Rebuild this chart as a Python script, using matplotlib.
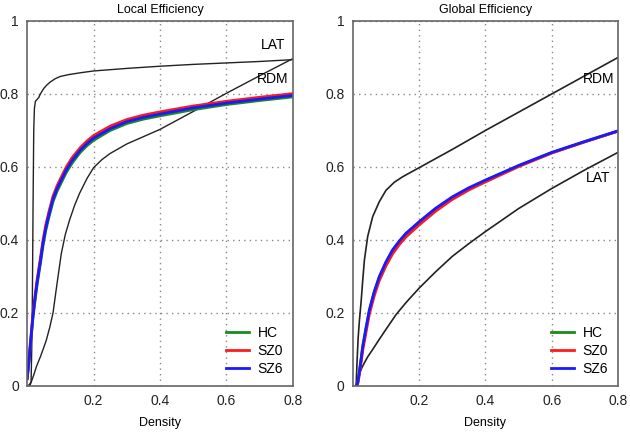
import numpy as np
import matplotlib.pyplot as plt

plt.rcParams['font.family'] = ['Liberation Sans', 'DejaVu Sans']

# Local efficiency curves (density, value)
loc_lat_x = [0.003, 0.012, 0.014, 0.016, 0.018, 0.02, 0.022, 0.025, 0.03, 0.035, 0.04, 0.05,
             0.06, 0.07, 0.085, 0.1, 0.125, 0.16, 0.2, 0.3, 0.4, 0.5, 0.6, 0.7, 0.8]
loc_lat_y = [0.0, 0.01, 0.1, 0.25, 0.5, 0.7, 0.76, 0.78, 0.785, 0.79, 0.80, 0.815,
             0.825, 0.833, 0.842, 0.848, 0.853, 0.858, 0.863, 0.87, 0.876, 0.881, 0.885, 0.889, 0.894]
loc_rdm_x = [0.008, 0.02, 0.028, 0.04, 0.05, 0.058, 0.068, 0.078, 0.09, 0.103, 0.115, 0.128,
             0.143, 0.158, 0.18, 0.2, 0.225, 0.25, 0.3, 0.35, 0.4, 0.5, 0.6, 0.7, 0.8]
loc_rdm_y = [0.0, 0.03, 0.053, 0.08, 0.105, 0.126, 0.16, 0.2, 0.28, 0.363, 0.415, 0.455,
             0.495, 0.528, 0.568, 0.598, 0.62, 0.637, 0.663, 0.683, 0.703, 0.752, 0.802, 0.85, 0.897]
loc_x = [0.0, 0.005, 0.01, 0.018, 0.025, 0.03, 0.04, 0.048, 0.056, 0.065, 0.078, 0.09, 0.1,
         0.118, 0.135, 0.16, 0.18, 0.2, 0.25, 0.3, 0.35, 0.4, 0.5, 0.6, 0.7, 0.8]
loc_sz0 = [0.02, 0.065, 0.12, 0.2, 0.255, 0.29, 0.35, 0.40, 0.44, 0.475, 0.52, 0.548, 0.567,
           0.60, 0.625, 0.653, 0.671, 0.686, 0.712, 0.73, 0.742, 0.751, 0.767, 0.78, 0.791, 0.801]
loc_sz6 = [0.02, 0.062, 0.115, 0.195, 0.248, 0.283, 0.342, 0.392, 0.432, 0.467, 0.512, 0.54, 0.559,
           0.592, 0.617, 0.646, 0.664, 0.679, 0.705, 0.724, 0.736, 0.745, 0.762, 0.775, 0.786, 0.796]
loc_hc = [0.02, 0.06, 0.11, 0.19, 0.242, 0.277, 0.335, 0.385, 0.425, 0.46, 0.505, 0.533, 0.552,
          0.585, 0.61, 0.64, 0.658, 0.673, 0.7, 0.719, 0.731, 0.74, 0.757, 0.771, 0.782, 0.792]

# Global efficiency curves
glo_rdm_x = [0.01, 0.013, 0.016, 0.02, 0.025, 0.03, 0.035, 0.045, 0.06, 0.08, 0.1, 0.125,
             0.15, 0.2, 0.3, 0.4, 0.5, 0.6, 0.7, 0.8]
glo_rdm_y = [0.0, 0.07, 0.13, 0.18, 0.23, 0.29, 0.345, 0.41, 0.464, 0.505, 0.536, 0.558,
             0.573, 0.598, 0.648, 0.70, 0.75, 0.80, 0.85, 0.90]
glo_lat_x = [0.01, 0.02, 0.03, 0.045, 0.06, 0.08, 0.1, 0.13, 0.16, 0.2, 0.25, 0.3, 0.35, 0.4,
             0.5, 0.6, 0.7, 0.8]
glo_lat_y = [0.0, 0.035, 0.055, 0.08, 0.10, 0.128, 0.155, 0.195, 0.228, 0.268, 0.313, 0.355,
             0.39, 0.423, 0.486, 0.541, 0.592, 0.64]
glo_x = [0.011, 0.015, 0.02, 0.03, 0.04, 0.05, 0.065, 0.08, 0.1, 0.12, 0.14, 0.16, 0.2, 0.25,
         0.3, 0.35, 0.4, 0.5, 0.6, 0.7, 0.8]
glo_sz6 = [0.0, 0.01, 0.04, 0.109, 0.16, 0.209, 0.26, 0.30, 0.34, 0.373, 0.397, 0.418, 0.45,
           0.487, 0.518, 0.543, 0.564, 0.604, 0.64, 0.67, 0.699]
glo_sz0 = [0.0, 0.006, 0.032, 0.098, 0.148, 0.197, 0.248, 0.289, 0.329, 0.362, 0.387, 0.408,
           0.441, 0.479, 0.511, 0.537, 0.559, 0.601, 0.638, 0.669, 0.698]
glo_hc = [0.0, 0.01, 0.039, 0.107, 0.158, 0.206, 0.257, 0.297, 0.337, 0.37, 0.394, 0.415,
          0.448, 0.485, 0.516, 0.541, 0.563, 0.603, 0.639, 0.669, 0.698]

fig = plt.figure(figsize=(6.3, 4.32), dpi=100)
ax1 = fig.add_axes([0.043, 0.1065, 0.422, 0.845])
ax2 = fig.add_axes([0.560, 0.1065, 0.421, 0.845])


def style(ax, title):
    ax.set_xlim(0, 0.8)
    ax.set_ylim(0, 1)
    ax.set_xticks([0.2, 0.4, 0.6, 0.8])
    ax.set_xticklabels(['0.2', '0.4', '0.6', '0.8'])
    ax.set_yticks([0, 0.2, 0.4, 0.6, 0.8, 1])
    ax.set_yticklabels(['0', '0.2', '0.4', '0.6', '0.8', '1'])
    ax.tick_params(length=0, labelsize=10, pad=6, colors='#222222')
    ax.grid(True, linestyle=(0, (1, 3)), color='#888888', linewidth=1)
    for s in ax.spines.values():
        s.set_color('#666666')
        s.set_linewidth(1.2)
    ax.set_title(title, fontsize=9, pad=6)
    ax.set_xlabel('Density', fontsize=9, labelpad=6)


kw = dict(solid_joinstyle='round')
ax1.plot(loc_lat_x, loc_lat_y, color='#222222', lw=1, **kw)
ax1.plot(loc_rdm_x, loc_rdm_y, color='#222222', lw=1, **kw)
ax1.plot(loc_x, loc_hc, color='#1a8a1a', lw=2, label='HC', **kw)
ax1.plot(loc_x, loc_sz0, color='#ff1a1a', lw=2, label='SZ0', **kw)
ax1.plot(loc_x, loc_sz6, color='#1a1aff', lw=2, label='SZ6', **kw)
ax1.text(0.74, 0.935, 'LAT', fontsize=10, ha='center', va='center')
ax1.text(0.74, 0.84, 'RDM', fontsize=10, ha='center', va='center')
style(ax1, 'Local Efficiency')

ax2.plot(glo_rdm_x, glo_rdm_y, color='#222222', lw=1.2, **kw)
ax2.plot(glo_lat_x, glo_lat_y, color='#222222', lw=1.2, **kw)
ax2.plot(glo_x, glo_hc, color='#1a8a1a', lw=2, label='HC', **kw)
ax2.plot(glo_x, glo_sz0, color='#ff1a1a', lw=2, label='SZ0', **kw)
ax2.plot(glo_x, glo_sz6, color='#1a1aff', lw=2, label='SZ6', **kw)
ax2.text(0.74, 0.84, 'RDM', fontsize=10, ha='center', va='center')
ax2.text(0.74, 0.57, 'LAT', fontsize=10, ha='center', va='center')
style(ax2, 'Global Efficiency')

for ax in (ax1, ax2):
    ax.legend(loc='lower right', frameon=False, fontsize=10, handlelength=1.7,
              handletextpad=0.6, labelspacing=0.3, borderaxespad=0.3)

fig.savefig('out.png', dpi=100)
